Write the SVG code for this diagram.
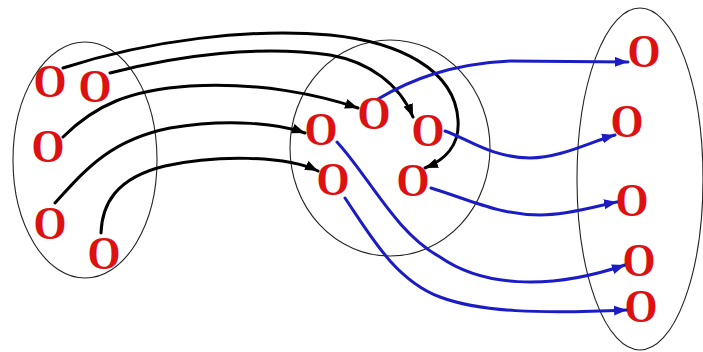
<svg xmlns="http://www.w3.org/2000/svg" width="703" height="352" viewBox="0 0 703 352">
<style>
.set{fill:none;stroke:#222;stroke-width:1.1}
.n{font-family:"Liberation Serif","Times New Roman",serif;font-weight:bold;font-size:46px;fill:#dd1111;text-anchor:middle}
.k{fill:none;stroke:#000;stroke-width:3;stroke-linecap:round}
.b{fill:none;stroke:#1c1cc4;stroke-width:3;stroke-linecap:round}
</style>
<defs>
<marker id="ak" markerUnits="userSpaceOnUse" markerWidth="14" markerHeight="11" refX="13" refY="5" orient="auto"><path d="M0,0 L13,5 L0,10 z" fill="#000"/></marker>
<marker id="ab" markerUnits="userSpaceOnUse" markerWidth="14" markerHeight="11" refX="13" refY="5" orient="auto"><path d="M0,0 L13,5 L0,10 z" fill="#1c1cc4"/></marker>
</defs>
<rect width="703" height="352" fill="#fff"/>
<g id="sets">
<ellipse id="set-left" class="set" cx="85" cy="160" rx="72" ry="118"/>
<ellipse id="set-middle" class="set" cx="390" cy="148" rx="100" ry="108"/>
<ellipse id="set-right" class="set" cx="640" cy="179" rx="63" ry="171"/>
</g>
<g id="connectors">
<path class="k" marker-end="url(#ak)" d="M63,68 C150,40 250,28 330,35 C400,42 455,70 458,120 C460,145 445,160 425,168"/>
<path class="k" marker-end="url(#ak)" d="M110,73 C180,55 260,45 330,55 C370,62 400,85 413,117"/>
<path class="k" marker-end="url(#ak)" d="M63,137 C95,105 130,90 190,86 C260,82 320,95 358,108"/>
<path class="k" marker-end="url(#ak)" d="M55,203 C85,170 110,140 170,128 C230,118 280,124 305,133"/>
<path class="k" marker-end="url(#ak)" d="M101,233 C102,205 115,178 165,166 C215,155 285,155 318,171"/>
<path class="b" marker-end="url(#ab)" d="M378,99 C410,80 450,64 510,61 L628,62"/>
<path class="b" marker-end="url(#ab)" d="M445,131 C470,140 490,157 530,158 C560,158 590,142 615,135"/>
<path class="b" marker-end="url(#ab)" d="M431,188 C470,200 500,215 540,215 C570,215 600,205 617,202"/>
<path class="b" marker-end="url(#ab)" d="M337,142 C370,178 395,232 440,257 C480,285 545,292 625,265"/>
<path class="b" marker-end="url(#ab)" d="M345,198 C370,235 395,280 440,297 C480,312 540,314 627,310"/>
</g>
<g id="L1"><text class="n" x="50" y="97" textLength="33" lengthAdjust="spacingAndGlyphs">O</text></g>
<g id="L2"><text class="n" x="95" y="102" textLength="33" lengthAdjust="spacingAndGlyphs">O</text></g>
<g id="L3"><text class="n" x="48" y="162" textLength="33" lengthAdjust="spacingAndGlyphs">O</text></g>
<g id="L4"><text class="n" x="50" y="239" textLength="33" lengthAdjust="spacingAndGlyphs">O</text></g>
<g id="L5"><text class="n" x="104" y="269" textLength="33" lengthAdjust="spacingAndGlyphs">O</text></g>
<g id="M1"><text class="n" x="374" y="129" textLength="33" lengthAdjust="spacingAndGlyphs">O</text></g>
<g id="M2"><text class="n" x="321" y="145" textLength="33" lengthAdjust="spacingAndGlyphs">O</text></g>
<g id="M3"><text class="n" x="428" y="146" textLength="33" lengthAdjust="spacingAndGlyphs">O</text></g>
<g id="M4"><text class="n" x="333" y="195" textLength="33" lengthAdjust="spacingAndGlyphs">O</text></g>
<g id="M5"><text class="n" x="413" y="196" textLength="33" lengthAdjust="spacingAndGlyphs">O</text></g>
<g id="R1"><text class="n" x="644" y="67" textLength="33" lengthAdjust="spacingAndGlyphs">O</text></g>
<g id="R2"><text class="n" x="627" y="137" textLength="33" lengthAdjust="spacingAndGlyphs">O</text></g>
<g id="R3"><text class="n" x="632" y="216" textLength="33" lengthAdjust="spacingAndGlyphs">O</text></g>
<g id="R4"><text class="n" x="639" y="276" textLength="33" lengthAdjust="spacingAndGlyphs">O</text></g>
<g id="R5"><text class="n" x="641" y="322" textLength="33" lengthAdjust="spacingAndGlyphs">O</text></g>
</svg>
